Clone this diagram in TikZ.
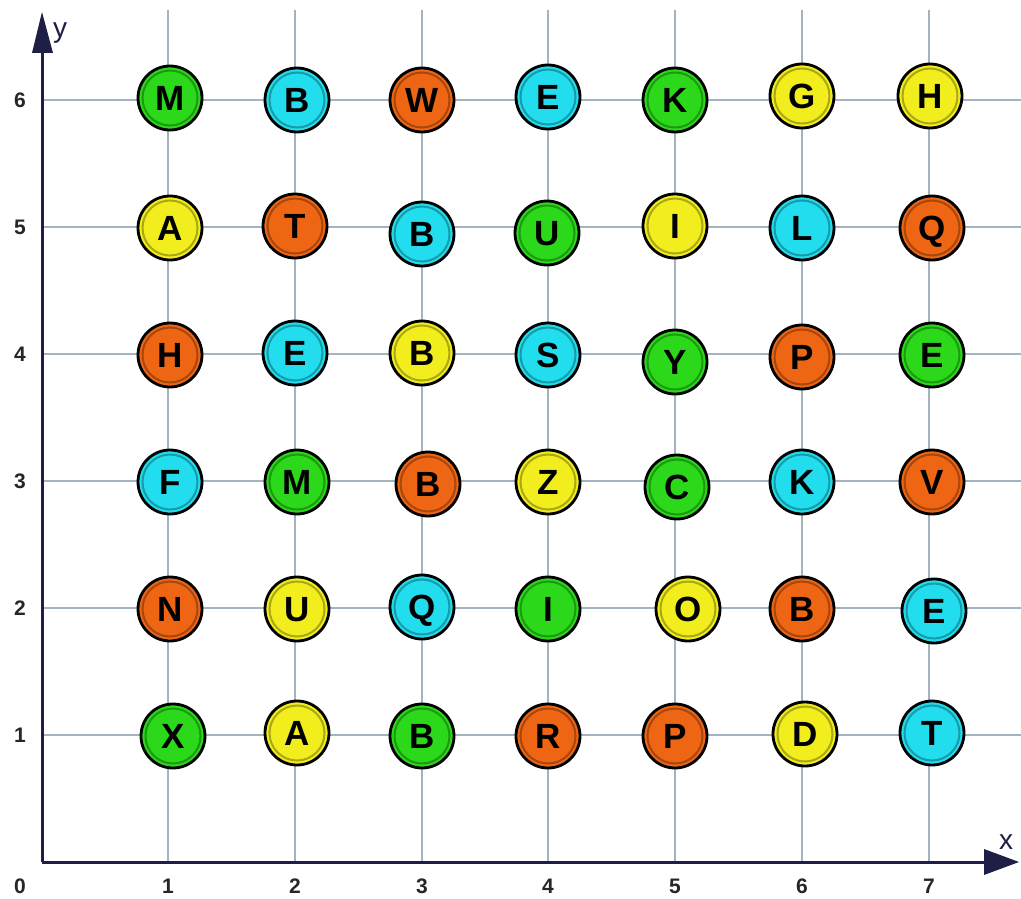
\documentclass[tikz,border=0pt]{standalone}
\usepackage{fontspec}
\setmainfont{Liberation Sans}
\definecolor{gridc}{HTML}{A3B3C0}
\definecolor{axisc}{HTML}{1E1E46}
\definecolor{cg}{HTML}{2BD91A}
\definecolor{cc}{HTML}{22DDEE}
\definecolor{co}{HTML}{EE6614}
\definecolor{cy}{HTML}{F2EE1E}
\tikzset{
  ball/.style={circle, draw=black, line width=2.8pt, minimum size=64pt, inner sep=0pt,
    fill=#1, text height=25pt, text depth=0pt,
    font=\fontsize{35}{35}\selectfont\bfseries,
    path picture={\draw[#1!70!black, line width=2pt] (path picture bounding box.center) circle (27.5pt);}},
  gridline/.style={gridc, line width=2pt},
  axisline/.style={axisc, line width=3pt},
  ticklabel/.style={font=\fontsize{21}{21}\selectfont\bfseries, text=black!85},
  axislabel/.style={font=\fontsize{28}{28}\selectfont, text=axisc}
}
\begin{document}
\begin{tikzpicture}[x=1pt,y=-1pt]
\useasboundingbox (0,0) rectangle (1021,899);
\fill[white] (0,0) rectangle (1021,899);
% grid
\foreach \gx in {168,295,422,548,675,802,929} \draw[gridline] (\gx,10) -- (\gx,862);
\foreach \gy in {100,227,354,481,608,735} \draw[gridline] (42,\gy) -- (1021,\gy);
% axes
\coordinate (O) at (42,862);
\coordinate (ytip) at (42,12);
\coordinate (xtip) at (1019,862);
\draw[axisline] (O) -- (42,50);
\draw[axisline] (O) -- (990,862);
\fill[axisc] (ytip) -- (53,53) -- (32,53) -- cycle;
\fill[axisc] (xtip) -- (984,849) -- (984,875) -- cycle;
\node[axislabel] (ylab) at (60,33) {y};
\node[axislabel] (xlab) at (1006,842) {x};
% tick labels
\node[ticklabel] (t0) at (20,886) {0};
\foreach \i/\gx in {1/168,2/295,3/422,4/548,5/675,6/802,7/929}
  \node[ticklabel] (tx\i) at (\gx,886) {\i};
\foreach \i/\gy in {1/735,2/608,3/481,4/354,5/227,6/100}
  \node[ticklabel] (ty\i) at (20,\gy) {\i};
% row 6
\node[ball=cg] (b61) at (170,98) {M};
\node[ball=cc] (b62) at (297,100) {B};
\node[ball=co] (b63) at (422,100) {W};
\node[ball=cc] (b64) at (548,97) {E};
\node[ball=cg] (b65) at (675,100) {K};
\node[ball=cy] (b66) at (802,96) {G};
\node[ball=cy] (b67) at (930,96) {H};
% row 5
\node[ball=cy] (b51) at (170,228) {A};
\node[ball=co] (b52) at (295,226) {T};
\node[ball=cc] (b53) at (422,234) {B};
\node[ball=cg] (b54) at (547,233) {U};
\node[ball=cy] (b55) at (675,226) {I};
\node[ball=cc] (b56) at (802,228) {L};
\node[ball=co] (b57) at (932,228) {Q};
% row 4
\node[ball=co] (b41) at (170,355) {H};
\node[ball=cc] (b42) at (295,353) {E};
\node[ball=cy] (b43) at (422,353) {B};
\node[ball=cc] (b44) at (548,355) {S};
\node[ball=cg] (b45) at (675,362) {Y};
\node[ball=co] (b46) at (802,357) {P};
\node[ball=cg] (b47) at (932,355) {E};
% row 3
\node[ball=cc] (b31) at (170,482) {F};
\node[ball=cg] (b32) at (297,482) {M};
\node[ball=co] (b33) at (428,484) {B};
\node[ball=cy] (b34) at (548,482) {Z};
\node[ball=cg] (b35) at (677,487) {C};
\node[ball=cc] (b36) at (802,482) {K};
\node[ball=co] (b37) at (932,482) {V};
% row 2
\node[ball=co] (b21) at (170,609) {N};
\node[ball=cy] (b22) at (297,609) {U};
\node[ball=cc] (b23) at (422,607) {Q};
\node[ball=cg] (b24) at (548,609) {I};
\node[ball=cy] (b25) at (688,609) {O};
\node[ball=co] (b26) at (802,609) {B};
\node[ball=cc] (b27) at (934,611) {E};
% row 1
\node[ball=cg] (b11) at (173,736) {X};
\node[ball=cy] (b12) at (297,733) {A};
\node[ball=cg] (b13) at (422,736) {B};
\node[ball=co] (b14) at (548,736) {R};
\node[ball=co] (b15) at (675,736) {P};
\node[ball=cy] (b16) at (805,734) {D};
\node[ball=cc] (b17) at (932,733) {T};
\end{tikzpicture}
\end{document}
